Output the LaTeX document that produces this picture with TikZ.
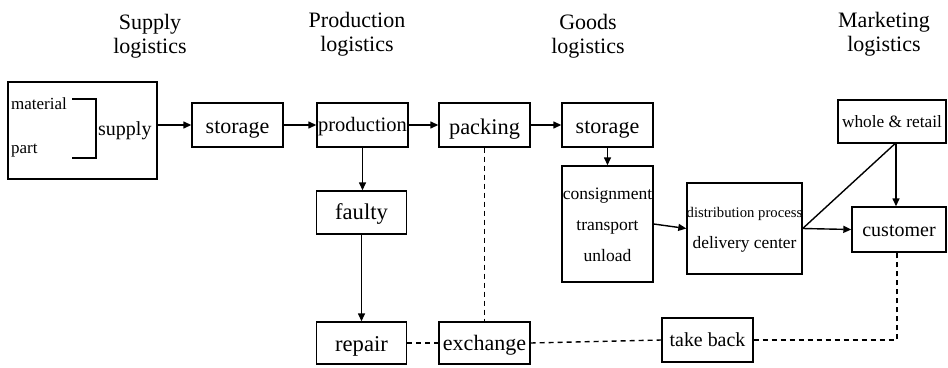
\documentclass[tikz,border=0pt]{standalone}
\usepackage{fontspec}
\setmainfont{Liberation Serif}
\usetikzlibrary{arrows.meta}
\newcommand{\fs}[1]{\fontsize{#1}{#1}\selectfont}
\begin{document}
\begin{tikzpicture}[x=1pt,y=-1pt,
  box/.style={draw, line width=1.4pt, inner sep=0pt},
  lbl/.style={inner sep=0pt, anchor=base, font=\rmfamily},
  arr/.style={line width=1.4pt, -{Triangle[length=8pt,width=7pt]}},
  ln/.style={line width=1.4pt},
  dsh/.style={line width=1.4pt, dash pattern=on 5pt off 4pt}]
\useasboundingbox (0,0) rectangle (948,367);
% headers
\node[lbl] (h1a) at (150,29) {\fs{22}Supply};
\node[lbl] (h1b) at (150,53) {\fs{22}logistics};
\node[lbl] (h2a) at (357,27) {\fs{22}Production};
\node[lbl] (h2b) at (357,51) {\fs{22}logistics};
\node[lbl] (h3a) at (588,29) {\fs{22}Goods};
\node[lbl] (h3b) at (588,53) {\fs{22}logistics};
\node[lbl] (h4a) at (884,27) {\fs{22}Marketing};
\node[lbl] (h4b) at (884,51) {\fs{22}logistics};
% supply box
\node[box, minimum width=149pt, minimum height=97pt] (supbox) at (82.5,130.5) {};
\node[lbl, anchor=base west] (mat) at (11,109) {\fs{17}material};
\node[lbl, anchor=base west] (part) at (11,153) {\fs{17}part};
\node[lbl, anchor=base west] (sup) at (98,135) {\fs{20}supply};
\coordinate (bt) at (72,99);
\coordinate (bb) at (72,158);
\draw[ln] (bt) -- (96,99) -- (96,158) -- (bb);
% top row boxes
\node[box, minimum width=91pt, minimum height=44pt] (stor1) at (237.5,125) {};
\node[box, minimum width=91pt, minimum height=44pt] (prod) at (362.5,125) {};
\node[box, minimum width=91pt, minimum height=44pt] (pack) at (484.5,125) {};
\node[box, minimum width=91pt, minimum height=44pt] (stor2) at (607.5,125) {};
\node[lbl] (t1) at (237.5,133) {\fs{22}storage};
\node[lbl] (t2) at (362.5,131.5) {\fs{20.5}production};
\node[lbl] (t3) at (484.5,134) {\fs{22.4}packing};
\node[lbl] (t4) at (607.5,133) {\fs{22}storage};
% goods
\node[box, minimum width=91pt, minimum height=116pt] (cons) at (607.5,224) {};
\node[lbl] (c1) at (607.5,199) {\fs{17.5}consignment};
\node[lbl] (c2) at (607.5,230) {\fs{17.5}transport};
\node[lbl] (c3) at (607.5,261) {\fs{17.5}unload};
\node[box, minimum width=115pt, minimum height=91pt] (dist) at (744.5,228.5) {};
\node[lbl] (d1) at (744.5,217) {\fs{14.7}distribution process};
\node[lbl] (d2) at (744.5,248) {\fs{17.4}delivery center};
% marketing
\node[box, minimum width=108pt, minimum height=43pt] (whole) at (892,121.5) {};
\node[lbl] (w1) at (892,127.5) {\fs{17.3}whole \& retail};
\node[box, minimum width=94pt, minimum height=45pt] (cust) at (899,229.5) {};
\node[lbl] (cu1) at (899,236.5) {\fs{20}customer};
% production branch
\node[box, minimum width=90pt, minimum height=43pt] (faulty) at (361.5,212.5) {};
\node[lbl] (f1) at (361.5,219) {\fs{22.6}faulty};
\node[box, minimum width=90pt, minimum height=42pt] (repair) at (361.5,343) {};
\node[lbl] (r1) at (361.5,351.5) {\fs{22.6}repair};
\node[box, minimum width=91pt, minimum height=42pt] (exch) at (484.5,343) {};
\node[lbl] (e1) at (484.5,350.5) {\fs{22}exchange};
\node[box, minimum width=91pt, minimum height=44pt] (take) at (707.5,340) {};
\node[lbl] (tb1) at (707.5,346.5) {\fs{19.9}take back};
% connectors
\draw[arr] (supbox.east |- stor1.west) -- (stor1.west);
\draw[arr] (stor1.east) -- (prod.west);
\draw[arr] (prod.east) -- (pack.west);
\draw[arr] (pack.east) -- (stor2.west);
\draw[arr] (prod.south) -- (prod.south |- faulty.north);
\draw[arr] (faulty.south) -- (repair.north);
\draw[arr] (stor2.south) -- (cons.north);
\draw[arr] (cons.east) -- (dist.west);
\draw[arr] (dist.east) -- (cust.west);
\draw[ln] (dist.east) -- ([xshift=3pt]whole.south);
\draw[arr] ([xshift=4pt]whole.south) -- ([xshift=-3pt]cust.north);
\draw[dsh] (pack.south) -- (pack.south |- exch.north);
\draw[dsh] (repair.east) -- (exch.west);
\draw[dsh] (exch.east) -- (take.west);
\draw[dsh] (take.east) -- ([xshift=-2pt]cust.south |- take.east) -- ([xshift=-2pt]cust.south);
\end{tikzpicture}
\end{document}
